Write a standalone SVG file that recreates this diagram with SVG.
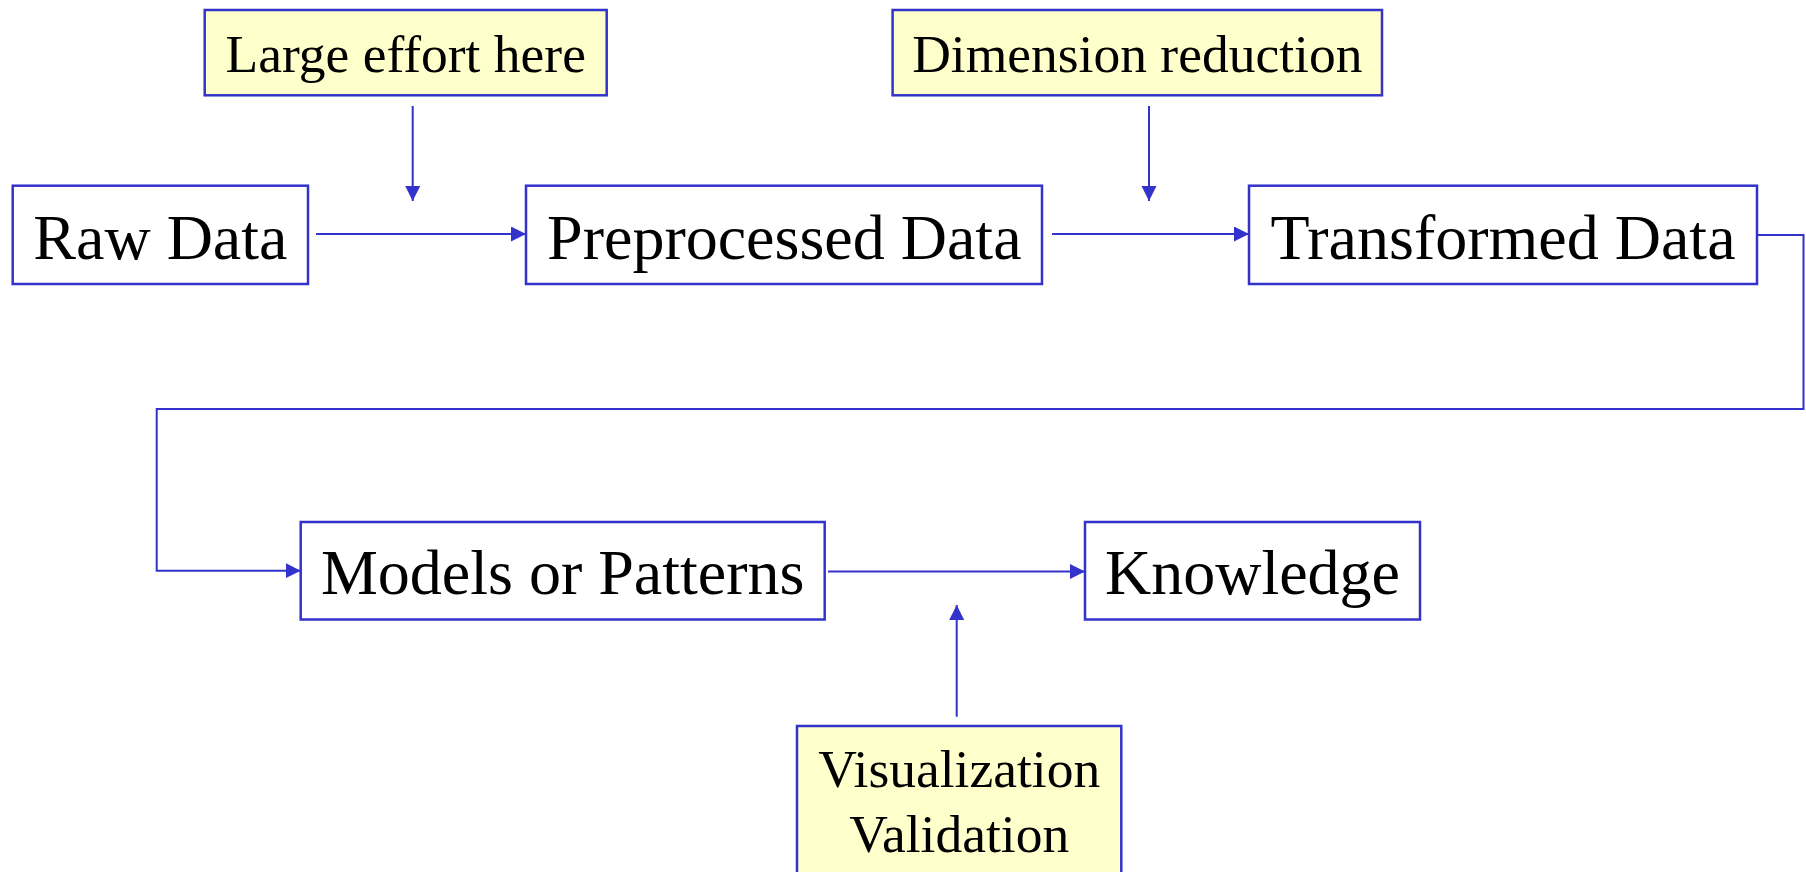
<svg xmlns="http://www.w3.org/2000/svg" width="1806" height="872" viewBox="0 0 1806 872">
<style>
.box{fill:#FFFFFF;stroke:#3333CC;stroke-width:2.5}
.note{fill:#FFFFCC;stroke:#3333CC;stroke-width:2.5}
.big{font-family:"Liberation Serif","Times New Roman",serif;font-size:64px;fill:#000;text-anchor:middle}
.small{font-family:"Liberation Serif","Times New Roman",serif;font-size:53.5px;fill:#000;text-anchor:middle}
.conn{fill:none;stroke:#3333CC;stroke-width:2}
</style>
<defs>
<marker id="arr" markerUnits="userSpaceOnUse" markerWidth="16" markerHeight="16" refX="15" refY="7.5" orient="auto">
<path d="M0,0 L15,7.5 L0,15 z" fill="#3333CC"/>
</marker>
</defs>
<rect width="1806" height="872" fill="#FFFFFF"/>
<g id="connectors">
<path class="conn" d="M316,234 H526" marker-end="url(#arr)"/>
<path class="conn" d="M1052,234 H1249" marker-end="url(#arr)"/>
<path class="conn" d="M412.7,106 V201" marker-end="url(#arr)"/>
<path class="conn" d="M1149,106 V201" marker-end="url(#arr)"/>
<path class="conn" d="M1757,235 H1803.5 V409 H156.7 V570.7 H300.7" marker-end="url(#arr)"/>
<path class="conn" d="M828,571.5 H1085" marker-end="url(#arr)"/>
<path class="conn" d="M956.7,716.7 V605" marker-end="url(#arr)"/>
</g>
<g id="large-effort">
<rect class="note" x="204.7" y="10" width="402" height="85.3"/>
<text class="small" x="405.7" y="71.7">Large effort here</text>
</g>
<g id="dimension-reduction">
<rect class="note" x="892.6" y="10" width="489.4" height="85.3"/>
<text class="small" x="1137.3" y="71.7">Dimension reduction</text>
</g>
<g id="raw-data">
<rect class="box" x="12.7" y="185.7" width="295.3" height="98.3"/>
<text class="big" x="160.4" y="259.3">Raw Data</text>
</g>
<g id="preprocessed-data">
<rect class="box" x="526" y="185.7" width="516" height="98.3"/>
<text class="big" x="784.3" y="259.3">Preprocessed Data</text>
</g>
<g id="transformed-data">
<rect class="box" x="1249" y="185.7" width="508" height="98.3"/>
<text class="big" x="1503" y="259.3">Transformed Data</text>
</g>
<g id="models-or-patterns">
<rect class="box" x="300.7" y="522" width="524" height="97.5"/>
<text class="big" x="562.7" y="594.3">Models or Patterns</text>
</g>
<g id="knowledge">
<rect class="box" x="1085" y="522" width="335" height="97.5"/>
<text class="big" x="1252.5" y="594.3">Knowledge</text>
</g>
<g id="visualization-validation">
<rect class="note" x="797" y="726" width="324.3" height="160"/>
<text class="small" x="959.2" y="787.3">Visualization</text>
<text class="small" x="959.2" y="851.7">Validation</text>
</g>
</svg>
